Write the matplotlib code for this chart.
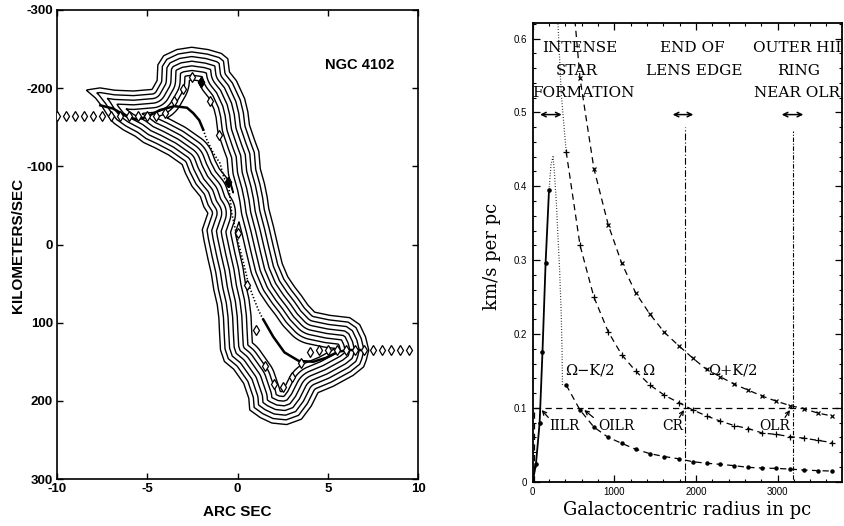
import numpy as np
import matplotlib
matplotlib.use('Agg')
import matplotlib.pyplot as plt
from matplotlib.path import Path
from matplotlib.ticker import MultipleLocator, FuncFormatter

plt.rcParams['axes.unicode_minus'] = False

# ---------------- left panel data (position-velocity diagram) ----------------
# outermost contour (arcsec, km/s)
outer_x = [-8.45, -7.62, -6.79, -5.77, -4.75, -4.48, -4.44, -4.11, -3.37, -2.54,
           -1.62, -0.88, -0.51, -0.42, -0.04, 0.42, 0.60, 0.69, 0.97, 1.21,
           1.29, 1.52, 1.67, 1.76, 2.02, 2.26, 2.50, 2.81, 3.19, 3.56,
           3.92, 4.29, 5.12, 6.23, 6.79, 7.12, 7.30, 7.16, 7.01, 6.42,
           5.31, 4.48, 4.11, 3.56, 2.73, 1.89, 1.25, 0.65, 0.60, 0.32,
           -0.23, -0.75, -0.97, -1.02, -1.06, -1.15, -1.34, -1.48, -1.67, -1.89,
           -1.98, -1.67, -1.89, -2.08, -2.54, -2.91, -3.09, -3.83, -4.57, -5.22,
           -5.68, -6.33, -6.88, -7.25, -7.52, -7.89]
outer_v = [-198, -201, -198, -197, -199, -210, -230, -242, -250, -253,
           -250, -245, -238, -221, -210, -187, -170, -153, -134, -119,
           -97, -78, -61, -46, -23, 1, 24, 41, 54, 65,
           77, 86, 90, 93, 102, 118, 135, 148, 157, 168,
           182, 190, 207, 224, 231, 229, 222, 212, 197, 178,
           160, 150, 135, 114, 94, 77, 58, 37, 18, -6,
           -19, -40, -48, -61, -74, -91, -102, -114, -123, -130,
           -138, -146, -155, -166, -176, -187]

# measured velocities (diamonds), every half arcsec
dia_x = [-10, -9.5, -9, -8.5, -8, -7.5, -7, -6.5, -6, -5.5, -5, -4.5, -4,
         -3.5, -3, -2.5, -2, -1.5, -1, -0.5, 0, 0.5, 1, 1.5, 2, 2.5, 3, 3.5,
         4, 4.5, 5, 5.5, 6, 6.5, 7, 7.5, 8, 8.5, 9, 9.5]
dia_v = [-165, -165, -165, -165, -165, -165, -165, -165, -165, -165, -165, -165, -168,
         -183, -199, -214, -208, -183, -140, -80, -15, 52, 109, 155, 179, 182, 169, 151,
         137, 135, 135, 135, 135, 135, 135, 135, 135, 135, 135, 135]
filled_x = [-2, -0.5]
filled_v = [-208, -80]

# model curve: solid outer parts, dotted inner part
sol1_x = [-7.6, -6.9, -6.15, -5.6, -5.05, -4.3, -3.5, -2.8, -2.45, -2.12, -1.9]
sol1_v = [-178, -174, -164, -160, -163, -172, -177, -175, -168, -159, -147]
dot_x = [-1.9, -1.7, -1.34, -0.97, -0.75, -0.5, -0.32, 0.05, 0.35, 0.6, 0.95, 1.2, 1.43]
dot_v = [-147, -134, -117, -104, -85, -78, -40, -2, 25, 50, 72, 86, 96]
sol2_x = [1.43, 1.98, 2.6, 3.4, 4.2, 4.9, 5.6, 6.2, 6.8]
sol2_v = [96, 118, 138, 149, 150, 145, 137, 135, 135]

# contour levels = distance (px) inside the outer contour
levels = [0.5, 5.1, 9.7, 14.3, 18.9, 23.5, 28.1, 32.7]

# ---------------- right panel data (frequencies) ----------------
r_rise = [0, 40, 85, 120, 158, 200]
v_rise = [0, 0.024, 0.08, 0.176, 0.296, 0.395]
r_inner = [200, 225, 250, 265, 290, 310, 330, 350, 360, 365]
v_inner = [0.395, 0.43, 0.44, 0.42, 0.377, 0.331, 0.286, 0.225, 0.175, 0.13]
r_om_in = [310, 350, 410]
v_om_in = [0.62, 0.525, 0.447]

r_mark = [410, 580, 750, 925, 1090, 1260, 1435, 1615, 1790, 1965,
          2130, 2300, 2470, 2640, 2810, 2985, 3155, 3320, 3490, 3665]
omega = [0.447, 0.320, 0.250, 0.203, 0.172, 0.150, 0.131, 0.117, 0.107, 0.097,
         0.089, 0.082, 0.076, 0.072, 0.066, 0.064, 0.061, 0.059, 0.056, 0.053]
omega_plus = [0.76, 0.546, 0.424, 0.348, 0.296, 0.256, 0.227, 0.202, 0.184, 0.167,
              0.152, 0.142, 0.132, 0.124, 0.116, 0.109, 0.103, 0.099, 0.093, 0.089]
omega_minus = [0.131, 0.097, 0.074, 0.060, 0.052, 0.044, 0.038, 0.034, 0.031, 0.027,
               0.025, 0.0235, 0.0217, 0.0194, 0.0185, 0.018, 0.0171, 0.0158, 0.015, 0.0144]

pattern_speed = 0.1
r_cr = 1870
r_olr = 3185

fig = plt.figure(figsize=(8.44, 5.26), dpi=100)

# ======================= left panel =======================
axl = fig.add_axes([57 / 844, 47 / 526, 361 / 844, 469 / 526])
axl.set_xlim(-10, 10)
axl.set_ylim(300, -300)

# signed distance (in screen pixels) to the outer contour -> nested contours
sx = 844 * axl.get_position().width / 20.0
sv = 526 * axl.get_position().height / 600.0
gx = np.linspace(-10, 10, 501)
gv = np.linspace(-300, 300, 701)
GX, GV = np.meshgrid(gx, gv)
poly = np.column_stack([outer_x, outer_v])
px, pv = GX * sx, GV * sv
x0s, v0s = poly[:, 0] * sx, poly[:, 1] * sv
x1s, v1s = np.roll(x0s, -1), np.roll(v0s, -1)
dist = np.full(GX.shape, np.inf)
for x0, y0, x1, y1 in zip(x0s, v0s, x1s, v1s):
    dx, dy = x1 - x0, y1 - y0
    t = np.clip(((px - x0) * dx + (pv - y0) * dy) / (dx * dx + dy * dy), 0, 1)
    dist = np.minimum(dist, np.hypot(px - x0 - t * dx, pv - y0 - t * dy))
inside = Path(poly).contains_points(np.column_stack([GX.ravel(), GV.ravel()])).reshape(GX.shape)
field = np.where(inside, dist, -dist)
axl.contour(GX, GV, field, levels=levels, colors='black', linewidths=1.0)

axl.plot(sol1_x, sol1_v, color='black', lw=1.8, zorder=4)
axl.plot(dot_x, dot_v, color='black', lw=1.2, ls=(0, (0.8, 1.2)), zorder=4)
axl.plot(sol2_x, sol2_v, color='black', lw=1.8, zorder=4)
axl.plot(dia_x, dia_v, ls='none', marker='d', ms=5, mfc='white', mec='black', mew=0.9, zorder=5)
axl.plot(filled_x, filled_v, ls='none', marker='d', ms=5, mfc='black', mec='black', zorder=6)

axl.text(4.85, -230, 'NGC 4102', fontsize=10.5, fontweight='bold',
         family='Liberation Sans', va='center', ha='left')

axl.set_xticks([-10, -5, 0, 5, 10])
axl.set_yticks([-300, -200, -100, 0, 100, 200, 300])
axl.tick_params(direction='in', length=4.5, width=1, top=True, right=True, pad=3)
for lab in axl.get_xticklabels() + axl.get_yticklabels():
    lab.set_family('Liberation Sans')
    lab.set_fontweight('bold')
    lab.set_fontsize(9.5)
for sp in axl.spines.values():
    sp.set_linewidth(1.2)

fig.text(237 / 844, 1 - 512 / 526, 'ARC SEC', fontsize=11, fontweight='bold',
         family='Liberation Sans', ha='center', va='center')
fig.text(18 / 844, 1 - 245 / 526, 'KILOMETERS/SEC', fontsize=11, fontweight='bold',
         family='Liberation Sans', ha='center', va='center', rotation=90)

# ======================= right panel =======================
axr = fig.add_axes([532.7 / 844, 44.3 / 526, 309.3 / 844, 458.7 / 526])
axr.set_xlim(0, 3790)
axr.set_ylim(0, 0.621)

axr.plot(r_rise, v_rise, color='black', lw=1.3, marker='o', ms=2.3, markevery=list(range(1, len(r_rise))))
axr.plot(r_inner, v_inner, color='black', lw=0.9, ls=(0, (0.6, 1.6)))
axr.plot(r_om_in, v_om_in, color='black', lw=0.9, ls=(0, (0.6, 1.6)))

axr.plot(r_mark, omega, color='black', lw=0.9, ls=(0, (5, 3.5)), marker='+', ms=5, mew=0.9)
axr.plot(r_mark, omega_plus, color='black', lw=0.9, ls=(0, (5, 3.5)), marker='x', ms=3.5, mew=0.9)
axr.plot(r_mark, omega_minus, color='black', lw=0.9, ls=(0, (5, 3.5)), marker='o', ms=2.2)

# pattern speed and resonance radii
axr.plot([15, 15, 3790], [0, pattern_speed, pattern_speed], color='black', lw=0.9, ls=(0, (5, 3.5)))
axr.plot([r_cr, r_cr], [0, 0.48], color='black', lw=0.8, ls=(0, (6, 2, 1, 2)))
axr.plot([r_olr, r_olr], [0, 0.475], color='black', lw=0.8, ls=(0, (1, 1.5, 4, 1.5)))

serif = 'DejaVu Serif'
tk = dict(fontsize=11, family=serif, ha='center', va='center')
axr.text(580, 0.5865, 'INTENSE', **tk)
axr.text(535, 0.556, 'STAR', **tk)
axr.text(615, 0.526, 'FORMATION', **tk)
axr.text(1958, 0.5865, 'END OF', **tk)
axr.text(1983, 0.556, 'LENS EDGE', **tk)
axr.text(2696, 0.5865, 'OUTER HII', fontsize=11, family=serif, ha='left', va='center', clip_on=True)
axr.text(3255, 0.556, 'RING', **tk)
axr.text(3241, 0.526, 'NEAR OLR', **tk)

for r0, r1 in [(90, 355), (1715, 1968), (3051, 3316)]:
    axr.annotate('', xy=(r0, 0.497), xytext=(r1, 0.497),
                 arrowprops=dict(arrowstyle='<->', lw=1.1, color='black', mutation_scale=8,
                                 shrinkA=0, shrinkB=0))

gk = dict(fontsize=10.5, family=serif, ha='left', va='center')
axr.text(396, 0.150, 'Ω−K/2', **gk)
axr.text(1336, 0.150, 'Ω', **gk)
axr.text(2150, 0.150, 'Ω+K/2', **gk)

res_labels = ['IILR', 'OILR', 'CR', 'OLR']
res_text_r = [200, 804, 1593, 2777]
res_head = [(110, 0.097), (632, 0.097), (1854, 0.097), (3153, 0.097)]
res_tail = [(191, 0.087), (743, 0.087), (1797, 0.087), (3092, 0.087)]
for lab, rt, hd, tl in zip(res_labels, res_text_r, res_head, res_tail):
    axr.text(rt, 0.0755, lab, fontsize=10, family=serif, ha='left', va='center')
    axr.annotate('', xy=hd, xytext=tl,
                 arrowprops=dict(arrowstyle='->', lw=0.9, color='black', mutation_scale=7,
                                 shrinkA=0, shrinkB=0))

axr.xaxis.set_major_locator(MultipleLocator(1000))
axr.xaxis.set_minor_locator(MultipleLocator(200))
axr.yaxis.set_major_locator(MultipleLocator(0.1))
axr.yaxis.set_minor_locator(MultipleLocator(0.02))
axr.xaxis.set_major_formatter(FuncFormatter(lambda v, p: '0' if v == 0 else f'{v:.0f}'))
axr.yaxis.set_major_formatter(FuncFormatter(lambda v, p: '0' if abs(v) < 1e-9 else f'{v:.1f}'))
axr.tick_params(which='major', direction='in', length=5, width=0.9, top=True, right=True, pad=4)
axr.tick_params(which='minor', direction='in', length=2.5, width=0.8, top=True, right=True)
for lab in axr.get_xticklabels() + axr.get_yticklabels():
    lab.set_family('Liberation Sans')
    lab.set_fontsize(7)
for sp in axr.spines.values():
    sp.set_linewidth(1.3)

fig.text(686.7 / 844, 1 - 510 / 526, 'Galactocentric radius in pc', fontsize=13,
         family=serif, ha='center', va='center')
fig.text(491.7 / 844, 1 - 256.7 / 526, 'km/s per pc', fontsize=13,
         family=serif, ha='center', va='center', rotation=90)

fig.savefig('out.png', dpi=100)
